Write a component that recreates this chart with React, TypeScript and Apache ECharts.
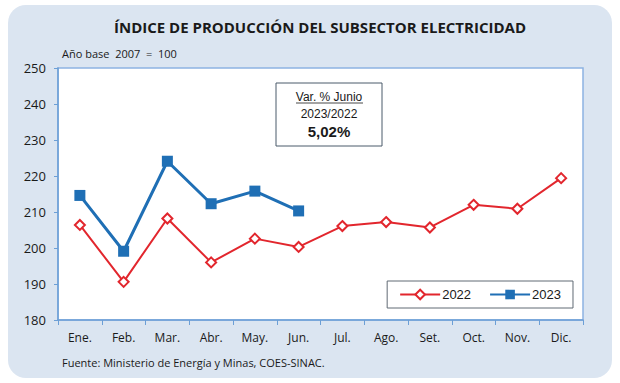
import React, { useEffect, useRef } from "react";
import * as echarts from "echarts";

const categories = ["Ene.", "Feb.", "Mar.", "Abr.", "May.", "Jun.", "Jul.", "Ago.", "Set.", "Oct.", "Nov.", "Dic."];
const values2022 = [206.4, 190.6, 208.2, 196.0, 202.6, 200.3, 206.1, 207.2, 205.7, 212.0, 210.9, 219.4];
const values2023 = [214.6, 199.1, 224.1, 212.3, 215.8, 210.3];
const yTicks = { min: 180, max: 250, interval: 10 };

export default function App() {
  const ref = useRef<HTMLDivElement>(null);
  useEffect(() => {
    const chart = echarts.init(ref.current!, null, { renderer: "svg" });
    const red = "#e2262d";
    const blue = "#1f6fb5";
    chart.setOption({
      animation: false,
      backgroundColor: "#ffffff",
      graphic: [
        { type: "rect", z: -10, shape: { x: 8, y: 5, width: 604, height: 373, r: 18 }, style: { fill: "#dbe5f1" } },
        { type: "text", x: 320, y: 27, style: { text: "ÍNDICE DE PRODUCCIÓN DEL SUBSECTOR ELECTRICIDAD", font: "bold 15px 'Open Sans'", fill: "#1a1a1a", align: "center", verticalAlign: "middle" } },
        { type: "text", x: 62, y: 53, style: { text: "Año base  2007  =  100", font: "11px 'Open Sans'", fill: "#1a1a1a", verticalAlign: "middle" } },
        { type: "text", x: 62, y: 362, style: { text: "Fuente: Ministerio de Energía y Minas, COES-SINAC.", font: "11px 'Open Sans'", fill: "#1a1a1a", verticalAlign: "middle" } },
        { type: "rect", z: 10, shape: { x: 276, y: 83, width: 106, height: 63 }, style: { fill: "#ffffff", stroke: "#4a5a6a", lineWidth: 1 } },
        { type: "text", z: 11, x: 329, y: 97, style: { text: "Var. % Junio", font: "12px 'Liberation Sans'", fill: "#1a1a1a", align: "center", verticalAlign: "middle" } },
        { type: "line", z: 11, shape: { x1: 296, y1: 103, x2: 363, y2: 103 }, style: { stroke: "#1a1a1a", lineWidth: 0.8 } },
        { type: "text", z: 11, x: 329, y: 114, style: { text: "2023/2022", font: "12px 'Liberation Sans'", fill: "#1a1a1a", align: "center", verticalAlign: "middle" } },
        { type: "text", z: 11, x: 329, y: 131, style: { text: "5,02%", font: "bold 15px 'Liberation Sans'", fill: "#1a1a1a", align: "center", verticalAlign: "middle" } }
      ],
      grid: { left: 58, right: 37, top: 68, bottom: 63, show: true, backgroundColor: "#ffffff", borderColor: "#8db3e2", borderWidth: 1.5 },
      legend: {
        right: 47, top: 281,
        padding: [7, 12, 7, 12],
        itemGap: 18,
        itemWidth: 40, itemHeight: 12,
        backgroundColor: "#ffffff",
        borderColor: "#606a74", borderWidth: 1,
        textStyle: { fontFamily: "Liberation Sans", fontSize: 13, color: "#1a1a1a", padding: [0, 0, 0, -3] },
        data: ["2022", "2023"]
      },
      xAxis: {
        type: "category",
        data: categories,
        boundaryGap: true,
        axisLine: { lineStyle: { color: "#6c9fd6", width: 1.5 } },
        axisTick: { show: true, inside: false, length: 5, lineStyle: { color: "#6c9fd6" } },
        axisLabel: { fontFamily: "Open Sans", fontSize: 12, color: "#1a1a1a", margin: 11 }
      },
      yAxis: {
        type: "value",
        min: yTicks.min, max: yTicks.max, interval: yTicks.interval,
        axisLine: { show: true, lineStyle: { color: "#6c9fd6", width: 1.5 } },
        axisTick: { show: true, length: 4, lineStyle: { color: "#6c9fd6" } },
        splitLine: { show: false },
        axisLabel: { fontFamily: "Open Sans", fontSize: 13, color: "#1a1a1a", margin: 12 }
      },
      series: [
        {
          name: "2022", type: "line", data: values2022,
          symbol: "emptyDiamond", symbolSize: 10,
          itemStyle: { color: red, borderWidth: 2 },
          lineStyle: { color: red, width: 2 }
        },
        {
          name: "2023", type: "line", data: values2023,
          symbol: "rect", symbolSize: 11,
          itemStyle: { color: blue },
          lineStyle: { color: blue, width: 3 }
        }
      ]
    });
    return () => chart.dispose();
  }, []);
  return <div ref={ref} style={{ position: "fixed", left: 0, top: 0, width: 620, height: 383 }} />;
}
